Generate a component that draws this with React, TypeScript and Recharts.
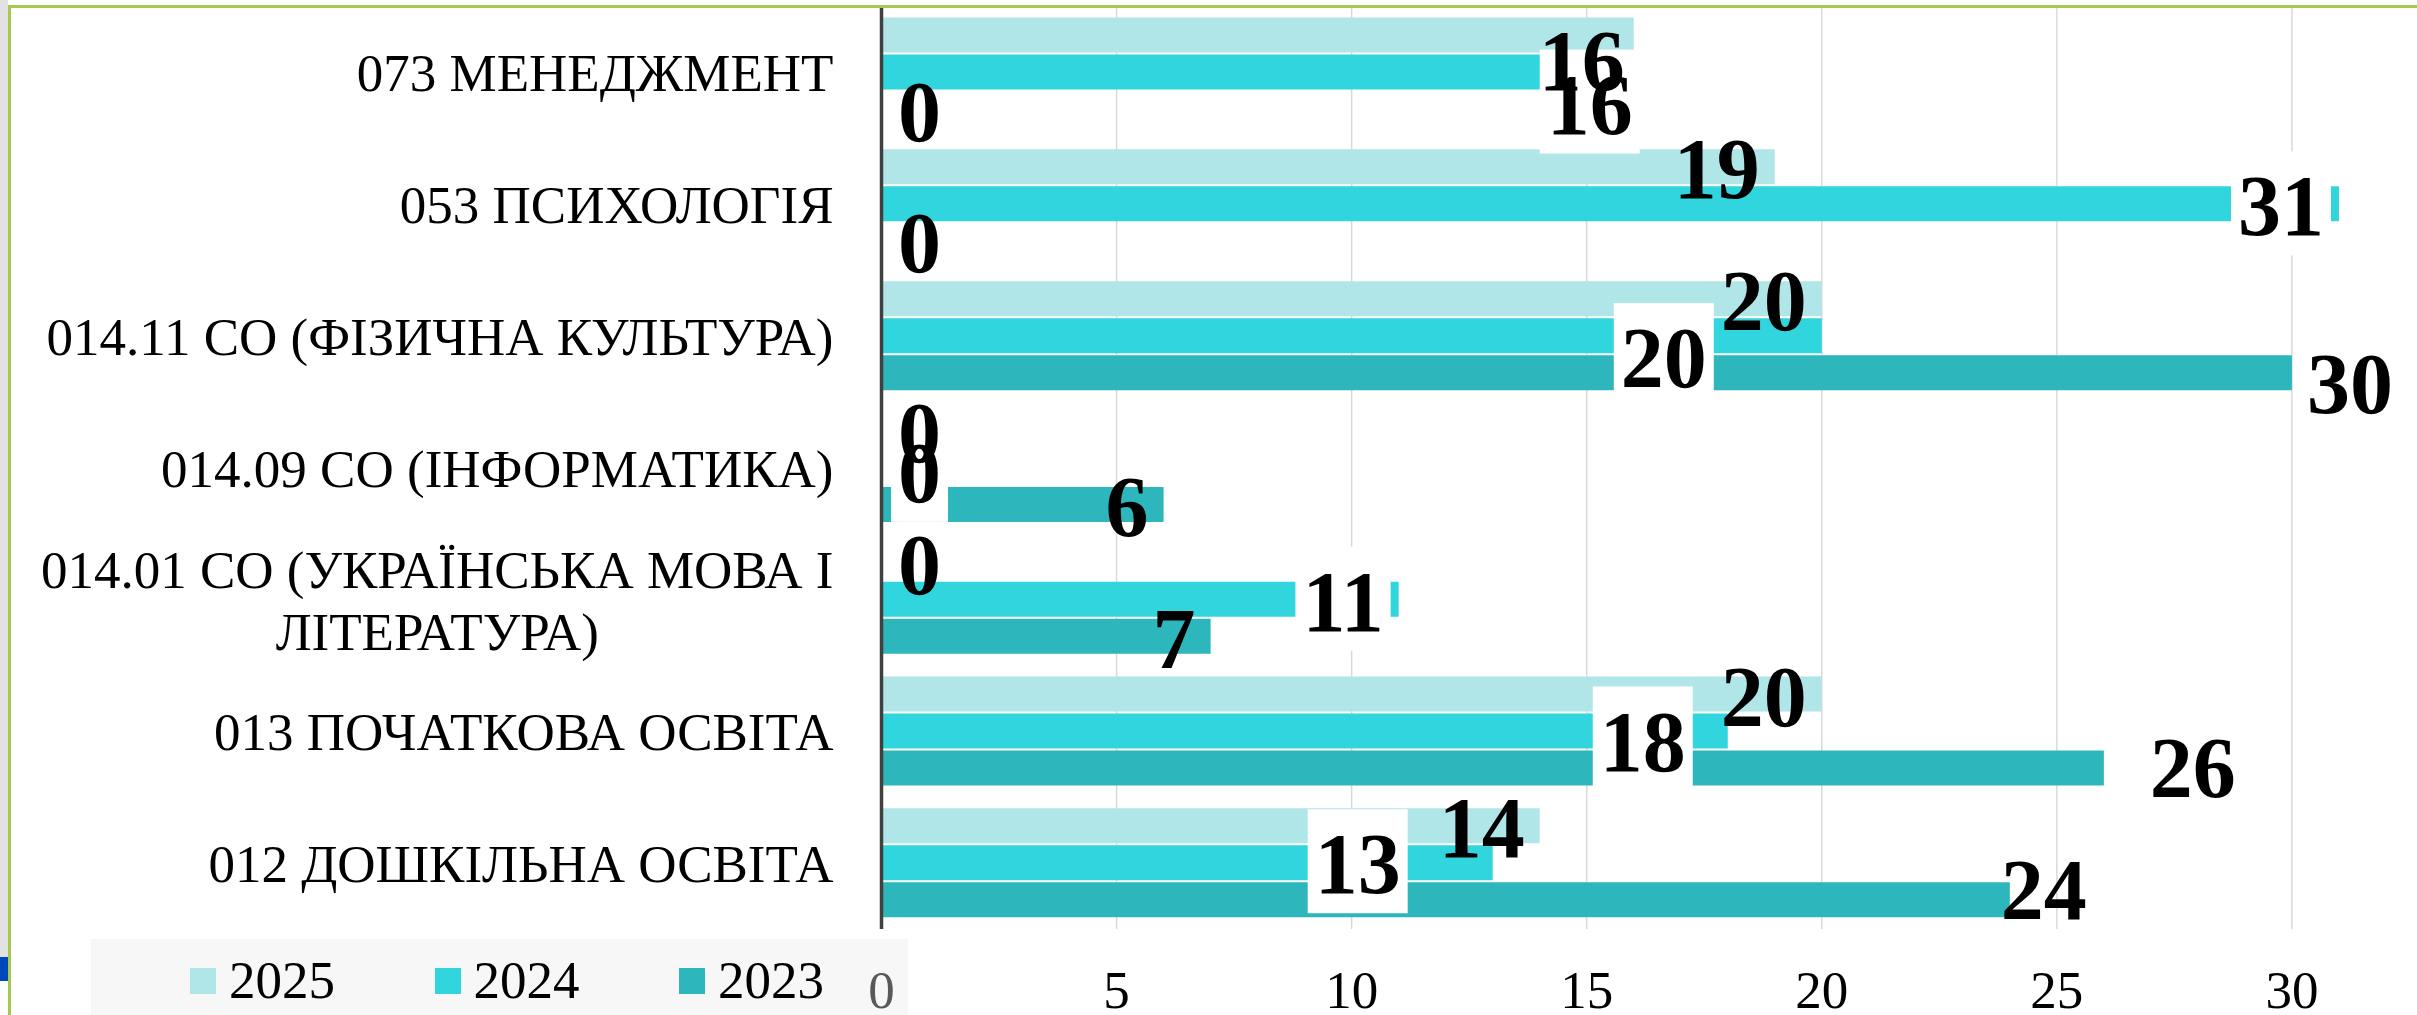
import React from "react"
import {
  BarChart,
  Bar,
  XAxis,
  YAxis,
  CartesianGrid,
  Legend,
  LabelList,
} from "recharts"

const categories = [
  "073 МЕНЕДЖМЕНТ",
  "053 ПСИХОЛОГІЯ",
  "014.11 СО (ФІЗИЧНА КУЛЬТУРА)",
  "014.09 СО (ІНФОРМАТИКА)",
  "014.01 СО (УКРАЇНСЬКА МОВА І ЛІТЕРАТУРА)",
  "013 ПОЧАТКОВА ОСВІТА",
  "012 ДОШКІЛЬНА ОСВІТА",
]
const values2025 = [16, 19, 20, 0, 0, 20, 14]
const values2024 = [16, 31, 20, 0, 11, 18, 13]
const values2023 = [0, 0, 30, 6, 7, 26, 24]
const xTicks = [0, 5, 10, 15, 20, 25, 30, 35]

const chartData = categories.map((name, i) => ({
  name,
  y2025: values2025[i],
  y2024: values2024[i],
  y2023: values2023[i],
}))

const series = [
  { key: "y2025", name: "2025", color: "#b0e6e8" },
  { key: "y2024", name: "2024", color: "#31d5dd" },
  { key: "y2023", name: "2023", color: "#2eb6bd" },
]

// hand-moved data labels in the original (dx, dy from the default spot)
const labelNudge: Record<string, Record<number, [number, number]>> = {
  "2025": { 0: [6, 23] },
  "2024": { 0: [14, 30], 2: [-100, 20], 3: [0, 3], 5: [-27, 8], 6: [-77, -1] },
  "2023": { 2: [116, 9], 5: [147, -3], 6: [92, -12] },
}

const FONT = "'Liberation Serif', 'Times New Roman', serif"
const TEXT_FS = 53
const LABEL_FS = 86

let measureCtx: CanvasRenderingContext2D | null = null
function textWidth(s: string, font: string) {
  if (!measureCtx && typeof document !== "undefined") {
    measureCtx = document.createElement("canvas").getContext("2d")
  }
  if (!measureCtx) return s.length * 0.5 * TEXT_FS
  measureCtx.font = font
  return measureCtx.measureText(s).width
}

function wrapWords(text: string, maxWidth: number, font: string) {
  const words = text.split(" ")
  const lines: string[] = []
  let cur = ""
  for (const w of words) {
    const next = cur ? cur + " " + w : w
    if (cur && textWidth(next, font) > maxWidth) {
      lines.push(cur)
      cur = w
    } else {
      cur = next
    }
  }
  if (cur) lines.push(cur)
  return lines
}

function CategoryTick({ x, y, payload }: any) {
  const font = `${TEXT_FS}px 'Liberation Serif'`
  const lines = wrapWords(String(payload.value), 830, font)
  const right = x - 48
  if (lines.length === 1) {
    return (
      <text x={right} y={y + 19} textAnchor="end" fontFamily={FONT} fontSize={TEXT_FS} fill="#000">
        {lines[0]}
      </text>
    )
  }
  const widest = Math.max(...lines.map((l) => textWidth(l, font)))
  const cx = right - widest / 2
  const top = y + 19 - ((lines.length - 1) * 62) / 2
  return (
    <text textAnchor="middle" fontFamily={FONT} fontSize={TEXT_FS} fill="#000">
      {lines.map((l, i) => (
        <tspan key={i} x={cx} y={top + i * 62}>
          {l}
        </tspan>
      ))}
    </text>
  )
}

function ValueTick({ x, y, payload }: any) {
  return (
    <text
      x={x}
      y={y + 79}
      textAnchor="middle"
      fontFamily={FONT}
      fontSize={TEXT_FS}
      fill={payload.value === 0 ? "#5c5c5c" : "#000"}
    >
      {payload.value}
    </text>
  )
}

// pass category index along with the value, so labels know their row
const labelAccessor = (key: string) => (entry: any, index: number) => {
  const row = entry?.payload ? categories.indexOf(entry.payload.name) : index
  const v = entry?.payload ? entry.payload[key] : entry?.value
  return `${row}|${v}`
}

// Labels have to sit above every bar, so 2025 and 2024 only define theirs
// and the last series (2023) draws them all with <use>.
const renderLabel = (name: string) => (props: any) => {
  const vb = props.viewBox ?? props
  const x = Number(vb.x ?? props.x)
  const y = Number(vb.y ?? props.y)
  const width = Number(vb.width ?? props.width ?? 0)
  const height = Number(vb.height ?? props.height ?? 0)
  const [rowStr, valStr] = String(props.value).split("|")
  const row = Number(rowStr)
  const value = Number(valStr)
  const text = String(value)
  const tw = textWidth(text, `bold ${LABEL_FS}px 'Liberation Serif'`)
  const boxW = tw + 14
  const end = x + width
  const [ndx, ndy] = labelNudge[name]?.[row] ?? [0, 0]
  const cx = (value > 0 ? end - 8 - boxW / 2 : end + 37) + ndx
  const cy = y + height / 2 + 2.5 + ndy

  const txt = (
    <text
      x={cx}
      y={cy + 0.338 * LABEL_FS}
      textAnchor="middle"
      fontFamily={FONT}
      fontWeight="bold"
      fontSize={LABEL_FS}
      fill="#000"
    >
      {text}
    </text>
  )

  if (name === "2025") {
    return (
      <defs>
        <g id={`lbl-2025-${row}`}>{txt}</g>
      </defs>
    )
  }
  if (name === "2024") {
    return (
      <defs>
        <g id={`box-2024-${row}`}>
          <rect x={cx - boxW / 2} y={cy - 3 - 52} width={boxW} height={104} fill="#ffffff" />
        </g>
        <g id={`lbl-2024-${row}`}>{txt}</g>
      </defs>
    )
  }
  return (
    <g>
      <use href={`#box-2024-${row}`} />
      <use href={`#lbl-2025-${row}`} />
      <use href={`#lbl-2024-${row}`} />
      {txt}
    </g>
  )
}

function LegendContent({ payload }: any) {
  const order = series.map((s) => s.name)
  const items = [...(payload ?? [])].sort(
    (a: any, b: any) => order.indexOf(String(a.value)) - order.indexOf(String(b.value))
  )
  return (
    <div style={{ position: "relative", width: 817, height: 80, background: "rgba(0,0,0,0.031)" }}>
      {items.map((item: any, i: number) => (
        <div key={item.value} style={{ position: "absolute", left: 99 + i * 244.5, top: 0 }}>
          <div
            style={{ position: "absolute", left: 0, top: 29, width: 26, height: 26, background: item.color }}
          />
          <div
            style={{
              position: "absolute",
              left: 39,
              top: 14.7,
              fontFamily: FONT,
              fontSize: TEXT_FS,
              lineHeight: `${TEXT_FS}px`,
              color: "#000",
              whiteSpace: "nowrap",
            }}
          >
            {item.value}
          </div>
        </div>
      ))}
    </div>
  )
}

export default function App() {
  return (
    <div
      style={{
        position: "absolute",
        left: 0,
        top: 0,
        width: 2417,
        height: 1015,
        overflow: "hidden",
        background: "#fff",
      }}
    >
      <BarChart
        width={2540}
        height={1015}
        data={chartData}
        layout="vertical"
        barSize={35}
        barGap={2}
        margin={{ top: 6.6, right: 13, left: 0, bottom: 0 }}
      >
        <CartesianGrid horizontal={false} stroke="#d9d9d9" strokeWidth={1.5} />
        <XAxis
          type="number"
          domain={[0, 35]}
          ticks={xTicks}
          interval={0}
          axisLine={false}
          tickLine={false}
          tickSize={0}
          tickMargin={0}
          height={86}
          tick={<ValueTick />}
        />
        <YAxis
          type="category"
          dataKey="name"
          width={881.5}
          interval={0}
          tickLine={false}
          tickSize={0}
          tickMargin={0}
          axisLine={{ stroke: "#404040", strokeWidth: 3.5 }}
          tick={<CategoryTick />}
        />
        <Legend
          layout="horizontal"
          verticalAlign="middle"
          align="center"
          width={817}
          height={76}
          wrapperStyle={{ left: 91, top: 939, width: 817, height: 76 }}
          content={<LegendContent />}
        />
        {series.map((s) => (
          <Bar
            key={s.key}
            dataKey={s.key}
            name={s.name}
            fill={s.color}
            minPointSize={1}
            isAnimationActive={false}
          >
            <LabelList valueAccessor={labelAccessor(s.key)} content={renderLabel(s.name)} />
          </Bar>
        ))}
      </BarChart>

      {/* slide frame bits around the chart */}
      <div style={{ position: "absolute", left: 0, top: 0, width: 8, height: 957, background: "#e2e2e2" }} />
      <div style={{ position: "absolute", left: 0, top: 957, width: 8, height: 24, background: "#0047bb" }} />
      <div style={{ position: "absolute", left: 8, top: 5, width: 2409, height: 3, background: "#a5c84f" }} />
      <div style={{ position: "absolute", left: 8, top: 5, width: 2.5, height: 1010, background: "#a5c84f" }} />
    </div>
  )
}
